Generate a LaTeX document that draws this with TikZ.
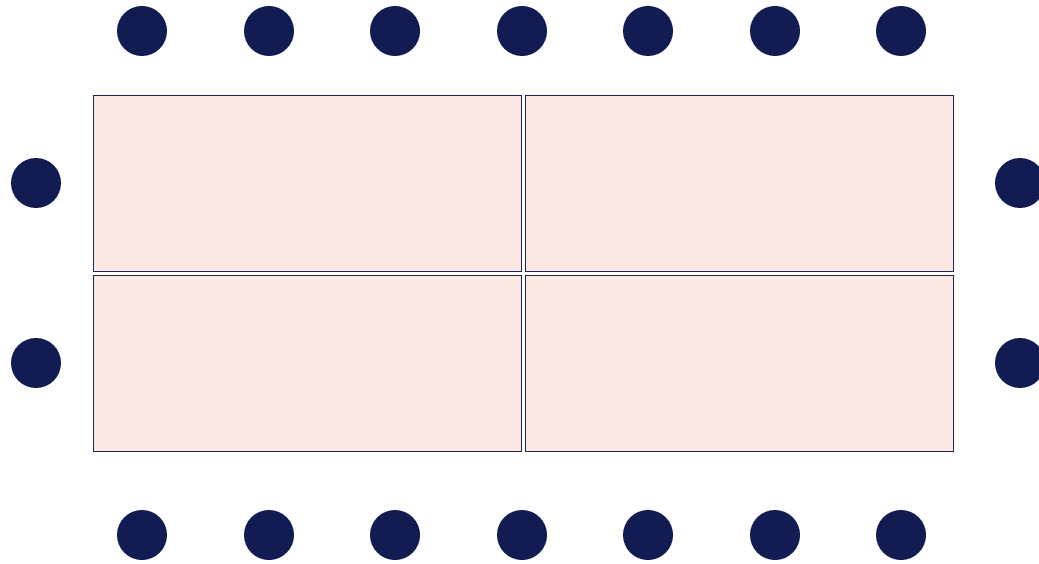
\documentclass[tikz,border=0pt]{standalone}
\definecolor{chairblue}{HTML}{121C52}
\definecolor{tablefill}{HTML}{FCE8E3}
\definecolor{tableline}{HTML}{1E2458}
\begin{document}
\begin{tikzpicture}[x=1pt,y=-1pt,
  chair/.style={circle,fill=chairblue,draw=none,minimum size=50pt,inner sep=0pt},
  tablepart/.style={rectangle,fill=tablefill,draw=tableline,line width=0.9pt,minimum width=428pt,minimum height=176pt,inner sep=0pt}]
\useasboundingbox (0,0) rectangle (1039,564);
\node[tablepart] (t1) at (307,183) {};
\node[tablepart] (t2) at (739,183) {};
\node[tablepart] (t3) at (307,363) {};
\node[tablepart] (t4) at (739,363) {};
\foreach \x [count=\i] in {142,269,395,522,648,775,901} {
  \node[chair] (top\i) at (\x,31) {};
  \node[chair] (bot\i) at (\x,535) {};
}
\node[chair] (l1) at (36,183) {};
\node[chair] (l2) at (36,363) {};
\node[chair] (r1) at (1020,183) {};
\node[chair] (r2) at (1020,363) {};
\end{tikzpicture}
\end{document}
